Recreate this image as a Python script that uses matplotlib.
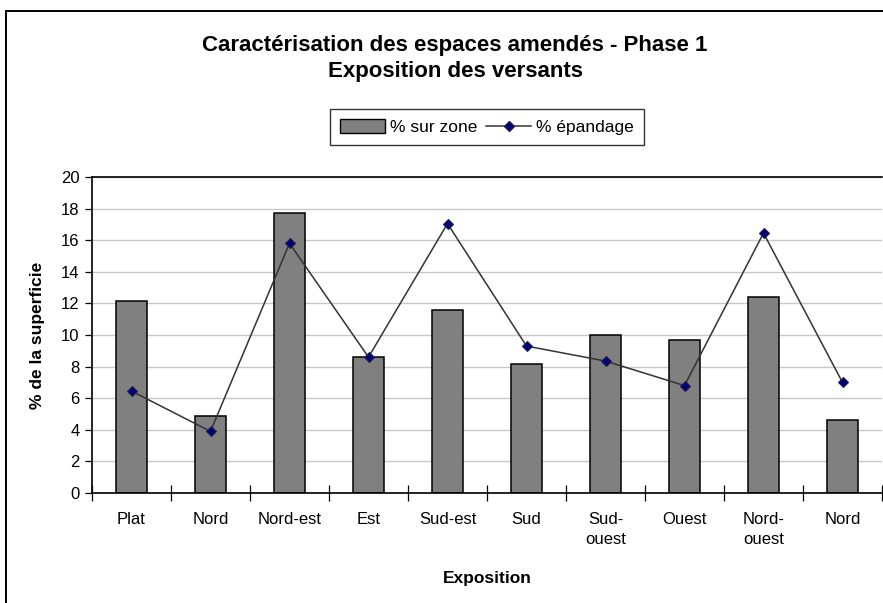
import matplotlib
matplotlib.use("Agg")
import matplotlib.pyplot as plt
from matplotlib.patches import Patch, Rectangle
from matplotlib.lines import Line2D
import numpy as np

plt.rcParams['font.family'] = ['Liberation Sans', 'DejaVu Sans']

categories = ["Plat", "Nord", "Nord-est", "Est", "Sud-est", "Sud",
              "Sud-\nouest", "Ouest", "Nord-\nouest", "Nord"]
sur_zone = [12.15, 4.9, 17.7, 8.6, 11.6, 8.15, 10.0, 9.7, 12.4, 4.65]
epandage = [6.45, 3.9, 15.8, 8.6, 17.05, 9.3, 8.35, 6.8, 16.45, 7.0]
yticks = list(range(0, 21, 2))

W, H = 883, 603
fig = plt.figure(figsize=(W / 100, H / 100), dpi=100)

# plot area in pixel terms
left, right, top, bottom = 92, 882, 177, 493
ax = fig.add_axes([left / W, 1 - bottom / H, (right - left) / W, (bottom - top) / H])

x = np.arange(len(categories))
ax.bar(x, sur_zone, width=0.4, color="#808080", edgecolor="black", linewidth=1.1, zorder=2)
ax.plot(x, epandage, color="#333333", linewidth=1.1, marker="D", markersize=5,
        markerfacecolor="#000080", markeredgecolor="#222244", markeredgewidth=0.8, zorder=3)

ax.set_xlim(-0.5, len(categories) - 0.5)
ax.set_ylim(0, 20)
ax.set_yticks(yticks)
ax.yaxis.grid(True, color="#c8c8c8", linewidth=1.0, zorder=0)
ax.set_axisbelow(True)

# boundary ticks crossing the axis, labels centred under each bar
ax.set_xticks(np.arange(-0.5, len(categories), 1.0))
ax.set_xticklabels([])
ax.tick_params(axis="x", which="major", direction="inout", length=12, width=0.9)
ax.set_xticks(x, minor=True)
ax.set_xticklabels(categories, minor=True, fontsize=12, linespacing=1.4, va="top")
ax.tick_params(axis="x", which="minor", length=0, pad=14)
ax.tick_params(axis="y", direction="out", length=5, width=0.9, pad=4, labelsize=12)

for s in ["left", "bottom", "top"]:
    ax.spines[s].set_color("black")
    ax.spines[s].set_linewidth(1.2)
ax.spines["right"].set_visible(False)

fig.text(455 / W, 1 - 45 / H, "Caractérisation des espaces amendés - Phase 1",
         ha="center", va="center", fontsize=16, fontweight="bold")
fig.text(455 / W, 1 - 71 / H, "Exposition des versants",
         ha="center", va="center", fontsize=16, fontweight="bold")
fig.text(487 / W, 1 - 578 / H, "Exposition", ha="center", va="center",
         fontsize=12.5, fontweight="bold")
fig.text(38 / W, 1 - 335 / H, "% de la superficie", ha="center", va="center",
         rotation=90, fontsize=12.5, fontweight="bold")

handles = [Patch(facecolor="#808080", edgecolor="black", linewidth=1.0),
           Line2D([], [], color="#333333", linewidth=1.1, marker="D", markersize=5,
                  markerfacecolor="#000080", markeredgecolor="#222244")]
leg = fig.legend(handles, ["% sur zone", "% épandage"], ncol=2, loc="center",
                 bbox_to_anchor=(487 / W, 1 - 127 / H), fontsize=12.5,
                 frameon=True, fancybox=False, edgecolor="black",
                 handlelength=2.6, handleheight=0.9, handletextpad=0.3,
                 columnspacing=0.5, borderpad=0.55, borderaxespad=0)
leg.get_frame().set_linewidth(1.0)

# outer chart border (left and top edges visible)
fig.patches.append(Rectangle((6 / W, -0.1), 1.2, 1.1 - 11 / H, transform=fig.transFigure,
                             fill=False, edgecolor="black", linewidth=1.4))

fig.savefig("out.png", dpi=100)
